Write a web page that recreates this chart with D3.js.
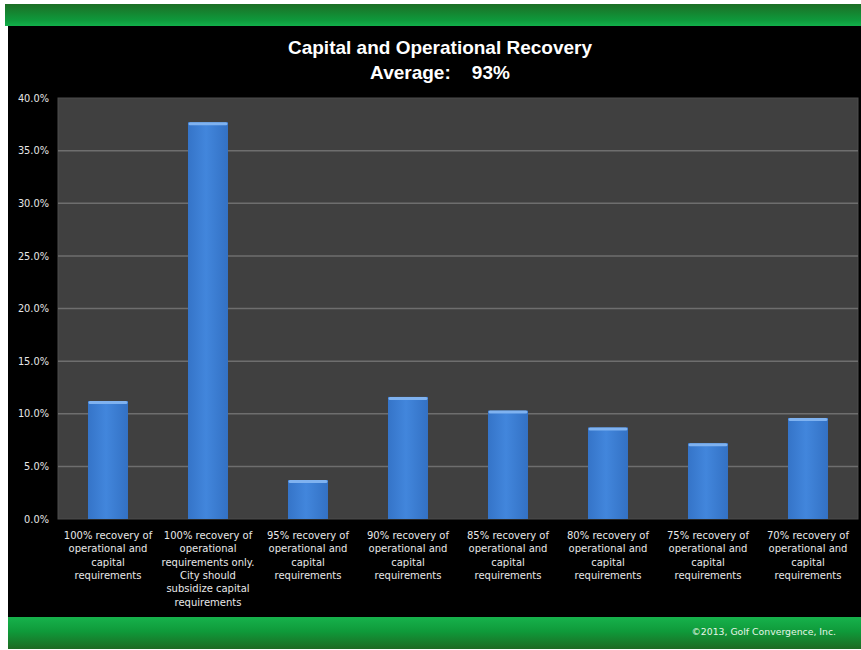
<!DOCTYPE html>
<html>
<head>
<meta charset="utf-8">
<script src="https://cdn.jsdelivr.net/npm/d3@7"></script>
<style>
  html, body { margin: 0; padding: 0; background: #ffffff; }
  svg { display: block; }
</style>
</head>
<body>
<script>
// Survey categories (x axis), one wrapped label per bar
const categories = [
  ["100% recovery of", "operational and", "capital", "requirements"],
  ["100% recovery of", "operational", "requirements only.", "City should", "subsidize capital", "requirements"],
  ["95% recovery of", "operational and", "capital", "requirements"],
  ["90% recovery of", "operational and", "capital", "requirements"],
  ["85% recovery of", "operational and", "capital", "requirements"],
  ["80% recovery of", "operational and", "capital", "requirements"],
  ["75% recovery of", "operational and", "capital", "requirements"],
  ["70% recovery of", "operational and", "capital", "requirements"]
];
// Share of responses, in percent
const shares = [11.2, 37.7, 3.7, 11.6, 10.3, 8.7, 7.2, 9.6];
// Y axis ticks, in percent
const yTicks = [0, 5, 10, 15, 20, 25, 30, 35, 40];

const titleLines = ["Capital and Operational Recovery", "Average:\u00A0\u00A0\u00A0 93%"];
const footerText = "\u00A92013, Golf Convergence, Inc.";

const W = 861, H = 650;
const svg = d3.select("body").append("svg").attr("width", W).attr("height", H);

const defs = svg.append("defs");
const gTop = defs.append("linearGradient").attr("id", "greenTop").attr("x1", 0).attr("y1", 0).attr("x2", 0).attr("y2", 1);
gTop.append("stop").attr("offset", "0%").attr("stop-color", "#1c6e25");
gTop.append("stop").attr("offset", "75%").attr("stop-color", "#0e9a3c");
gTop.append("stop").attr("offset", "100%").attr("stop-color", "#12b04a");
const gBot = defs.append("linearGradient").attr("id", "greenBot").attr("x1", 0).attr("y1", 0).attr("x2", 0).attr("y2", 1);
gBot.append("stop").attr("offset", "0%").attr("stop-color", "#16b24c");
gBot.append("stop").attr("offset", "45%").attr("stop-color", "#0f9a3a");
gBot.append("stop").attr("offset", "100%").attr("stop-color", "#1d6a22");
const gBar = defs.append("linearGradient").attr("id", "barFill").attr("x1", 0).attr("y1", 0).attr("x2", 1).attr("y2", 0);
gBar.append("stop").attr("offset", "0%").attr("stop-color", "#3574c8");
gBar.append("stop").attr("offset", "45%").attr("stop-color", "#4286dc");
gBar.append("stop").attr("offset", "100%").attr("stop-color", "#3371c4");

// Slide background
svg.append("rect").attr("x", 0).attr("y", 0).attr("width", W).attr("height", H).attr("fill", "#ffffff");
svg.append("rect").attr("x", 8).attr("y", 26).attr("width", W - 8).attr("height", 592).attr("fill", "#000000");
svg.append("rect").attr("x", 5).attr("y", 4).attr("width", W - 5).attr("height", 22).attr("fill", "url(#greenTop)");
svg.append("rect").attr("x", 8).attr("y", 617).attr("width", W - 8).attr("height", 32).attr("fill", "url(#greenBot)");

// Title
const title = svg.append("text").attr("text-anchor", "middle")
  .attr("font-family", "'Liberation Sans', Arial, sans-serif")
  .attr("font-weight", "bold").attr("font-size", 19).attr("fill", "#ffffff");
title.selectAll("tspan").data(titleLines).join("tspan")
  .attr("x", 440).attr("y", (d, i) => 54 + i * 25).text(d => d);

// Plot area
const x0 = 58, x1 = 858, yTop = 98, yBot = 519;
svg.append("rect").attr("x", x0).attr("y", yTop).attr("width", x1 - x0).attr("height", yBot - yTop)
  .attr("fill", "#404040").attr("stroke", "#4c4c4c").attr("stroke-width", 1);

const x = d3.scaleBand().domain(d3.range(categories.length)).range([x0, x1]).paddingInner(0.6).paddingOuter(0.3);
const y = d3.scaleLinear().domain([0, 40]).range([yBot, yTop]);

// Gridlines
svg.append("g").selectAll("line").data(yTicks.filter(t => t > 0 && t < 40)).join("line")
  .attr("x1", x0).attr("x2", x1).attr("y1", d => y(d)).attr("y2", d => y(d))
  .attr("stroke", "#6e6e6e").attr("stroke-width", 1.5);

// Y axis labels
const yAxis = svg.append("g").attr("transform", `translate(${x0},0)`)
  .call(d3.axisLeft(y).tickValues(yTicks).tickFormat(d => d.toFixed(1) + "%").tickSize(0).tickPadding(9));
yAxis.select(".domain").remove();
yAxis.selectAll("text").attr("fill", "#e6e6e6").attr("font-size", 9.8)
  .attr("font-family", "'DejaVu Sans', sans-serif");

// Bars
const bars = svg.append("g").selectAll("g").data(shares).join("g");
bars.append("rect")
  .attr("x", (d, i) => x(i)).attr("y", d => y(d))
  .attr("width", x.bandwidth()).attr("height", d => yBot - y(d))
  .attr("fill", "url(#barFill)");
bars.append("rect")
  .attr("x", (d, i) => x(i) + 0.5).attr("y", d => y(d))
  .attr("width", x.bandwidth() - 1).attr("height", 3)
  .attr("rx", 1.5)
  .attr("fill", "#7fb2f0");

// Category labels
const labels = svg.append("g").selectAll("text").data(categories).join("text")
  .attr("text-anchor", "middle").attr("fill", "#e8e8e8").attr("font-size", 10)
  .attr("font-family", "'DejaVu Sans', sans-serif");
labels.selectAll("tspan").data((d, i) => d.map(line => ({ line, i }))).join("tspan")
  .attr("x", d => x(d.i) + x.bandwidth() / 2)
  .attr("y", (d, j) => 539 + j * 13.3)
  .text(d => d.line);

// Footer
svg.append("text").attr("x", 836).attr("y", 635).attr("text-anchor", "end")
  .attr("fill", "#e8f5e8").attr("font-size", 9.3)
  .attr("font-family", "'DejaVu Sans', sans-serif")
  .text(footerText);
</script>
</body>
</html>
